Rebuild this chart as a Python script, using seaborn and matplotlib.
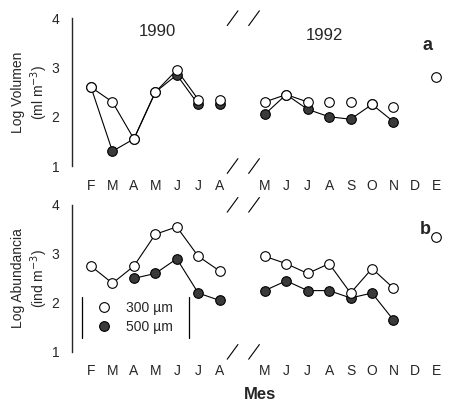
import numpy as np
import pandas as pd
import matplotlib
matplotlib.use("Agg")
import matplotlib.pyplot as plt
import seaborn as sns
from matplotlib.lines import Line2D
from matplotlib.transforms import blended_transform_factory

nan = np.nan

# month labels of the two sampling years
months_1990 = ['F', 'M', 'A', 'M', 'J', 'J', 'A']
months_1992 = ['M', 'J', 'J', 'A', 'S', 'O', 'N', 'D', 'E']

# panel a: log volume (ml m-3)
vol_300_1990 = [2.6, 2.3, 1.55, 2.5, 2.95, 2.35, 2.35]
vol_500_1990 = [2.6, 1.3, 1.55, 2.5, 2.85, 2.25, 2.25]
vol_300_1992 = [2.3, 2.45, 2.3, 2.3, 2.3, 2.25, 2.2, nan, 2.8]
vol_500_1992 = [2.05, 2.45, 2.15, 2.0, 1.95, 2.25, 1.9, nan, nan]

# panel b: log abundance (ind m-3)
ab_300_1990 = [2.75, 2.4, 2.75, 3.4, 3.55, 2.95, 2.65]
ab_500_1990 = [nan, nan, 2.5, 2.6, 2.9, 2.2, 2.05]
ab_300_1992 = [2.95, 2.8, 2.6, 2.8, 2.2, 2.7, 2.3, nan, 3.35]
ab_500_1992 = [2.25, 2.45, 2.25, 2.25, 2.1, 2.2, 1.65, nan, nan]

GAP = 8.1  # where 1992 starts on the x axis
x90 = np.arange(len(months_1990))
x92 = GAP + np.arange(len(months_1992))


def seg_df(xs, ys, seg):
    d = pd.DataFrame({'x': xs, 'y': ys})
    d['seg'] = seg
    return d.dropna()


def draw_panel(ax, s300_90, s500_90, s300_92, s500_92, lines300, lines500):
    # lines: list of (year, start, stop) index ranges that are connected
    parts = []
    for i, (yr, a, b) in enumerate(lines300):
        xs, ys = (x90, s300_90) if yr == 1990 else (x92, s300_92)
        parts.append(seg_df(xs[a:b], ys[a:b], f'o{i}'))
    for i, (yr, a, b) in enumerate(lines500):
        xs, ys = (x90, s500_90) if yr == 1990 else (x92, s500_92)
        parts.append(seg_df(xs[a:b], ys[a:b], f'f{i}'))
    lines = pd.concat(parts)
    sns.lineplot(data=lines, x='x', y='y', units='seg', estimator=None,
                 color='black', lw=0.8, sort=False, ax=ax, legend=False)

    filled = pd.concat([seg_df(x90, s500_90, 'a'), seg_df(x92, s500_92, 'b')])
    opened = pd.concat([seg_df(x90, s300_90, 'a'), seg_df(x92, s300_92, 'b')])
    sns.scatterplot(data=filled, x='x', y='y', s=48, color='#3a3a3a',
                    edgecolor='black', linewidth=0.8, ax=ax, zorder=3)
    sns.scatterplot(data=opened, x='x', y='y', s=48, color='white',
                    edgecolor='black', linewidth=0.8, ax=ax, zorder=4)

    ax.set_xlim(-0.89, GAP + 8.55)
    ax.set_ylim(1, 4)
    ax.set_yticks([1, 2, 3, 4])
    ax.set_xticks(list(x90) + list(x92))
    ax.set_xticklabels(months_1990 + months_1992)
    ax.set_xlabel('')
    for s in ['top', 'right', 'bottom']:
        ax.spines[s].set_visible(False)
    ax.spines['left'].set_linewidth(1.0)
    ax.tick_params(axis='x', length=2, width=0.6, pad=7, labelsize=10)
    ax.tick_params(axis='y', length=0, pad=9, labelsize=10)

    # axis-break slashes
    tr = blended_transform_factory(ax.transData, ax.transAxes)
    for cx in (6.6, 7.6):
        for cy in (0.0, 1.0):
            ax.plot([cx - 0.25, cx + 0.25], [cy - 0.05, cy + 0.05],
                    color='black', lw=0.8, transform=tr, clip_on=False)


sns.set_style('white')
plt.rcParams['font.family'] = ['Liberation Sans', 'DejaVu Sans']

fig = plt.figure(figsize=(4.55, 4.04), dpi=100)
ax_a = fig.add_axes([0.158, 0.589, 0.827, 0.366])
ax_b = fig.add_axes([0.158, 0.129, 0.827, 0.364])

draw_panel(ax_a, vol_300_1990, vol_500_1990, vol_300_1992, vol_500_1992,
           lines300=[(1990, 0, 6), (1992, 0, 3)],
           lines500=[(1990, 0, 6), (1992, 0, 7)])
draw_panel(ax_b, ab_300_1990, ab_500_1990, ab_300_1992, ab_500_1992,
           lines300=[(1990, 0, 7), (1992, 0, 7)],
           lines500=[(1990, 2, 7), (1992, 0, 7)])

ax_a.set_ylabel('Log Volumen\n(ml m$^{-3}$)', fontsize=10, labelpad=1)
ax_b.set_ylabel('Log Abundancia\n(ind m$^{-3}$)', fontsize=10, labelpad=1)
ax_b.set_xlabel('Mes', fontsize=12, fontweight='bold', labelpad=6)

ax_a.text(3.1, 3.72, '1990', fontsize=12, ha='center', va='center')
ax_a.text(GAP + 2.8, 3.65, '1992', fontsize=12, ha='center', va='center')
ax_a.text(GAP + 7.6, 3.45, 'a', fontsize=13, fontweight='bold', ha='center', va='center')
ax_b.text(GAP + 7.5, 3.5, 'b', fontsize=13, fontweight='bold', ha='center', va='center')

# legend with only side bars
handles = [
    Line2D([], [], ls='none', marker='o', ms=7, mfc='white', mec='black', mew=0.8),
    Line2D([], [], ls='none', marker='o', ms=7, mfc='#3a3a3a', mec='black', mew=0.8),
]
ax_b.legend(handles, ['300 µm', '500 µm'], loc='center left',
            bbox_to_anchor=(0.03, 0.235), frameon=False, fontsize=10,
            handlelength=1.2, handletextpad=1.0, labelspacing=0.35)
for fx in (0.027, 0.31):
    ax_b.plot([fx, fx], [0.095, 0.374], color='black', lw=0.9,
              transform=ax_b.transAxes)

fig.savefig('out.png', dpi=100)
